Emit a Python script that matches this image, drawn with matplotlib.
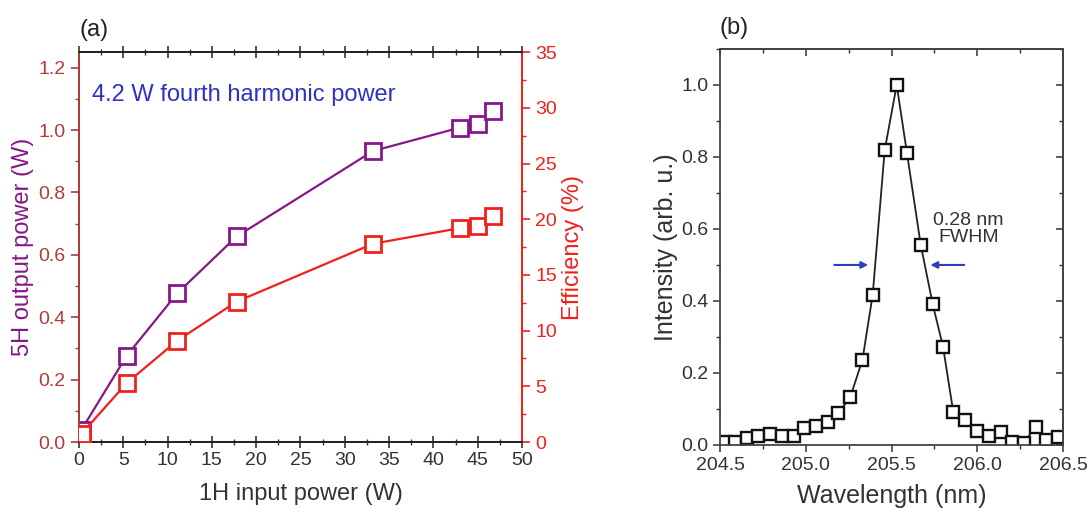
import matplotlib
matplotlib.use("Agg")
import matplotlib.pyplot as plt
from matplotlib.ticker import MultipleLocator, FormatStrFormatter

plt.rcParams['font.family'] = ['Liberation Sans', 'DejaVu Sans']

# Panel (a): conversion results versus fundamental input power
input_power_w = [0.3, 5.4, 11.1, 17.8, 33.2, 43.0, 45.0, 46.7]
output_5h_w = [0.04, 0.277, 0.477, 0.659, 0.933, 1.008, 1.019, 1.061]
efficiency_pct = [0.75, 5.3, 9.1, 12.6, 17.8, 19.2, 19.4, 20.3]

# Panel (b): 5H spectrum
wavelength_nm = [204.53, 204.59, 204.66, 204.72, 204.79, 204.86, 204.93, 204.99,
                 205.06, 205.13, 205.19, 205.26, 205.33, 205.39, 205.46, 205.53,
                 205.59, 205.67, 205.74, 205.80, 205.86, 205.93, 206.00, 206.07,
                 206.14, 206.20, 206.27, 206.34, 206.40, 206.47]
intensity = [0.009, 0.009, 0.020, 0.026, 0.030, 0.026, 0.026, 0.048,
             0.054, 0.065, 0.088, 0.134, 0.236, 0.417, 0.819, 1.000,
             0.810, 0.556, 0.391, 0.273, 0.091, 0.068, 0.039, 0.025,
             0.037, 0.009, 0.005, 0.051, 0.014, 0.023]
fwhm_level = 0.5
fwhm_left_arrow = (205.15, 205.38)
fwhm_right_arrow = (205.94, 205.71)

purple = '#86168A'
darkred = '#B03A3A'
red = '#F0201A'
blue = '#2F2FC8'
textgray = '#333333'

fig = plt.figure(figsize=(10.89, 5.13), dpi=100)

# ---------- panel (a) ----------
ax = fig.add_axes([0.0725, 0.1384, 0.4068, 0.760])
ax2 = ax.twinx()

ax.plot(input_power_w, output_5h_w, color=purple, lw=1.6, marker='s', ms=11,
        mfc='white', mec=purple, mew=2.0, zorder=3)
ax2.plot(input_power_w, efficiency_pct, color=red, lw=1.6, marker='s', ms=11,
         mfc='white', mec=red, mew=2.0, zorder=3)

ax.set_xlim(0, 50)
ax.set_ylim(0, 1.25)
ax2.set_ylim(0, 35)

ax.xaxis.set_major_locator(MultipleLocator(5))
ax.xaxis.set_minor_locator(MultipleLocator(2.5))
ax.yaxis.set_major_locator(MultipleLocator(0.2))
ax.yaxis.set_minor_locator(MultipleLocator(0.1))
ax2.yaxis.set_major_locator(MultipleLocator(5))
ax2.yaxis.set_minor_locator(MultipleLocator(2.5))
ax.yaxis.set_major_formatter(FormatStrFormatter('%.1f'))

ax.tick_params(axis='x', which='both', direction='inout', top=True, colors=textgray,
               labelsize=14)
ax.tick_params(axis='x', which='major', length=8, width=1.2)
ax.tick_params(axis='x', which='minor', length=5, width=1.0)
ax.tick_params(axis='y', which='both', direction='out', colors=darkred, labelsize=14)
ax.tick_params(axis='y', which='major', length=6, width=1.2)
ax.tick_params(axis='y', which='minor', length=3, width=1.0)
ax2.tick_params(axis='y', which='both', direction='out', colors=red, labelsize=14)
ax2.tick_params(axis='y', which='major', length=6, width=1.2)
ax2.tick_params(axis='y', which='minor', length=3, width=1.0)

for a in (ax, ax2):
    a.spines['top'].set_color('#222222')
    a.spines['bottom'].set_color('#222222')
    a.spines['left'].set_color(darkred)
    a.spines['right'].set_color(red)
    for s in a.spines.values():
        s.set_linewidth(1.3)

ax.set_xlabel('1H input power (W)', fontsize=17, color=textgray, labelpad=10)
ax.set_ylabel('5H output power (W)', fontsize=17, color=purple, labelpad=3)
ax2.set_ylabel('Efficiency (%)', fontsize=17, color=red, labelpad=4)

ax.text(0.03, 0.89, '4.2 W fourth harmonic power', transform=ax.transAxes,
        fontsize=17, color=blue, ha='left', va='center')
fig.text(0.073, 0.942, '(a)', fontsize=17, color='#222222', ha='left', va='center')

# ---------- panel (b) ----------
bx = fig.add_axes([0.6612, 0.1326, 0.315, 0.772])
bx.plot(wavelength_nm, intensity, color='#222222', lw=1.3, marker='s', ms=8.5,
        mfc='white', mec='#111111', mew=1.7)
bx.set_xlim(204.5, 206.5)
bx.set_ylim(0, 1.1)
bx.xaxis.set_major_locator(MultipleLocator(0.5))
bx.xaxis.set_minor_locator(MultipleLocator(0.25))
bx.yaxis.set_major_locator(MultipleLocator(0.2))
bx.yaxis.set_minor_locator(MultipleLocator(0.1))
bx.xaxis.set_major_formatter(FormatStrFormatter('%.1f'))
bx.yaxis.set_major_formatter(FormatStrFormatter('%.1f'))
bx.tick_params(which='both', colors=textgray, labelsize=14, top=False, right=False,
               direction='out')
bx.tick_params(which='major', length=5, width=1.1)
bx.tick_params(which='minor', length=3, width=1.0)
bx2 = bx.secondary_xaxis('top')
bx2.xaxis.set_major_locator(MultipleLocator(0.5))
bx2.xaxis.set_minor_locator(MultipleLocator(0.25))
bx2.tick_params(which='both', direction='in', labeltop=False, colors=textgray)
bx2.tick_params(which='major', length=5, width=1.1)
bx2.tick_params(which='minor', length=3, width=1.0)
by2 = bx.secondary_yaxis('right')
by2.yaxis.set_major_locator(MultipleLocator(0.2))
by2.yaxis.set_minor_locator(MultipleLocator(0.1))
by2.tick_params(which='both', direction='in', labelright=False, colors=textgray)
by2.tick_params(which='major', length=5, width=1.1)
by2.tick_params(which='minor', length=3, width=1.0)
for s in list(bx.spines.values()) + [bx2.spines['top'], by2.spines['right']]:
    s.set_color('#444444')
    s.set_linewidth(1.3)

bx.set_xlabel('Wavelength (nm)', fontsize=18, color=textgray, labelpad=7)
bx.set_ylabel('Intensity (arb. u.)', fontsize=18, color=textgray, labelpad=2)

arrow_kw = dict(arrowstyle='-|>', color='#2B3FBF', lw=1.5, mutation_scale=10)
bx.annotate('', xy=(fwhm_left_arrow[1], fwhm_level), xytext=(fwhm_left_arrow[0], fwhm_level),
            arrowprops=arrow_kw)
bx.annotate('', xy=(fwhm_right_arrow[1], fwhm_level), xytext=(fwhm_right_arrow[0], fwhm_level),
            arrowprops=arrow_kw)
bx.text(205.95, 0.6, '0.28 nm\nFWHM', fontsize=14, color=textgray, ha='center',
        va='center', linespacing=1.05)
fig.text(0.661, 0.945, '(b)', fontsize=17, color='#222222', ha='left', va='center')

fig.savefig('out.png', dpi=100)
